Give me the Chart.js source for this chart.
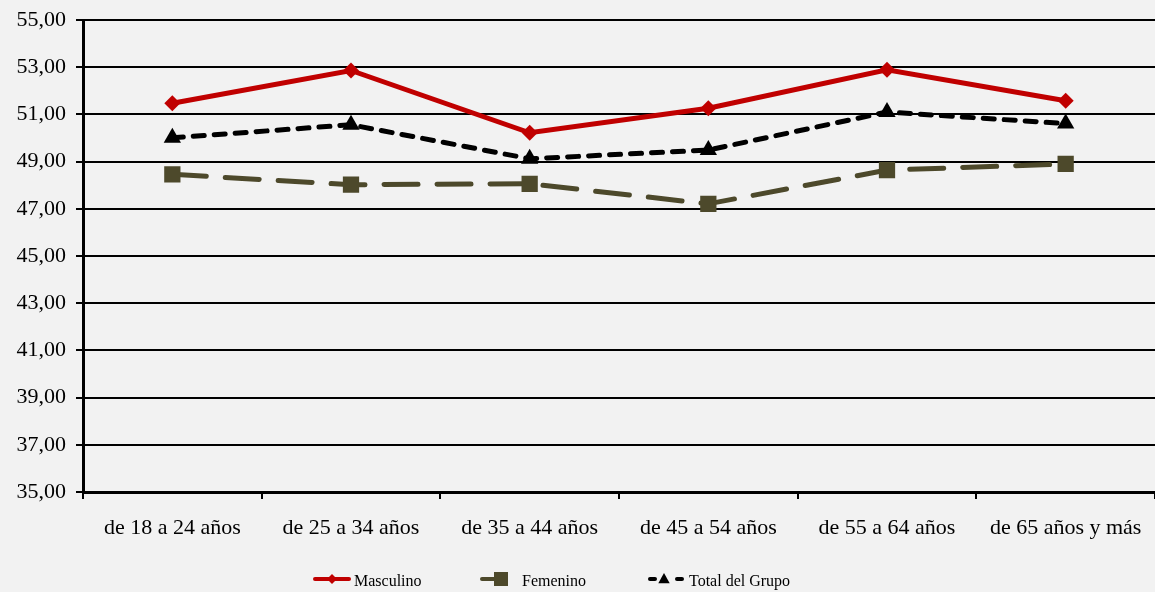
<!DOCTYPE html>
<html>
<head>
<meta charset="utf-8">
<script src="https://cdn.jsdelivr.net/npm/chart.js@4.4.1/dist/chart.umd.min.js"></script>
<style>
  html, body { margin: 0; padding: 0; background: #f2f2f2; }
  #wrap { width: 1155px; height: 592px; position: relative; }
</style>
</head>
<body>
<div id="wrap"><canvas id="c" width="1155" height="592"></canvas></div>
<script>
// Age groups on the x axis
const categories = ['de 18 a 24 años', 'de 25 a 34 años', 'de 35 a 44 años', 'de 45 a 54 años', 'de 55 a 64 años', 'de 65 años y más'];

// Series values
const masculino = [51.47, 52.86, 50.22, 51.26, 52.89, 51.58];
const femenino  = [48.46, 48.02, 48.06, 47.21, 48.64, 48.90];
const totalGrupo = [50.01, 50.56, 49.12, 49.49, 51.10, 50.61];

const seriesNames = ['Masculino', 'Femenino', 'Total del Grupo'];

// Y axis range
const yMin = 35, yMax = 55, yStep = 2;

const FONT = '"Liberation Serif", "Times New Roman", serif';

function fmt(v) { return v.toFixed(2).replace('.', ','); }

// Legend drawn under the plot: a short line sample with the marker, then the name
const legendItems = [
  { lineFrom: 313, lineTo: 351, marker: 332, textX: 354 },
  { lineFrom: 480, lineTo: 508, marker: 501, textX: 522 },
  { lineFrom: 648, lineTo: 684, marker: 664, textX: 689 }
];

function drawMarker(ctx, style, x, y, r, color) {
  ctx.save();
  ctx.fillStyle = color;
  ctx.beginPath();
  if (style === 'rectRot') {
    ctx.moveTo(x, y - r); ctx.lineTo(x + r, y); ctx.lineTo(x, y + r); ctx.lineTo(x - r, y);
  } else if (style === 'rect') {
    ctx.rect(x - r, y - r, 2 * r, 2 * r);
  } else {
    ctx.moveTo(x, y - r); ctx.lineTo(x + r * 0.95, y + r * 0.7); ctx.lineTo(x - r * 0.95, y + r * 0.7);
  }
  ctx.closePath();
  ctx.fill();
  ctx.restore();
}

const legendPlugin = {
  id: 'bottomLegend',
  afterDraw(chart) {
    const ctx = chart.ctx;
    const y = 579;
    chart.data.datasets.forEach((ds, i) => {
      const it = legendItems[i];
      ctx.save();
      ctx.strokeStyle = ds.borderColor;
      ctx.lineWidth = 4;
      ctx.lineCap = 'round';
      if (i === 1) {
        ctx.beginPath(); ctx.moveTo(it.lineFrom + 2, y); ctx.lineTo(it.marker, y); ctx.stroke();
      } else if (i === 2) {
        ctx.beginPath(); ctx.moveTo(it.lineFrom + 2, y); ctx.lineTo(it.lineFrom + 7, y); ctx.stroke();
        ctx.beginPath(); ctx.moveTo(it.lineTo - 7, y); ctx.lineTo(it.lineTo - 2, y); ctx.stroke();
      } else {
        ctx.beginPath(); ctx.moveTo(it.lineFrom + 2, y); ctx.lineTo(it.lineTo - 2, y); ctx.stroke();
      }
      ctx.restore();
      const r = i === 0 ? 5 : (i === 1 ? 7 : 6);
      drawMarker(ctx, ds.pointStyle, it.marker, y, r, ds.borderColor);
      ctx.save();
      ctx.fillStyle = '#000';
      ctx.font = '16px ' + FONT;
      ctx.textBaseline = 'alphabetic';
      ctx.textAlign = 'left';
      ctx.fillText(seriesNames[i], it.textX, y + 7);
      ctx.restore();
    });
  }
};

const bgPlugin = {
  id: 'bg',
  beforeDraw(chart) {
    const ctx = chart.ctx;
    ctx.save();
    ctx.fillStyle = '#f2f2f2';
    ctx.fillRect(0, 0, chart.width, chart.height);
    ctx.restore();
  }
};

new Chart(document.getElementById('c'), {
  type: 'line',
  data: {
    labels: categories,
    datasets: [
      {
        label: seriesNames[0], data: masculino,
        borderColor: '#c00000', backgroundColor: '#c00000',
        borderWidth: 5, pointStyle: 'rectRot', pointRadius: 8, pointHoverRadius: 8,
        pointBorderWidth: 0, tension: 0
      },
      {
        label: seriesNames[1], data: femenino,
        borderColor: '#4d492b', backgroundColor: '#4d492b',
        borderWidth: 5, borderDash: [34, 19], borderCapStyle: 'round',
        pointStyle: 'rect', pointRadius: 11.5, pointHoverRadius: 11.5,
        pointBorderWidth: 0, tension: 0
      },
      {
        label: seriesNames[2], data: totalGrupo,
        borderColor: '#000000', backgroundColor: '#000000',
        borderWidth: 5, borderDash: [11, 10], borderCapStyle: 'round',
        pointStyle: 'triangle', pointRadius: 10, pointHoverRadius: 10,
        pointBorderWidth: 0, tension: 0
      }
    ]
  },
  options: {
    responsive: false,
    animation: false,
    devicePixelRatio: 1,
    layout: { autoPadding: false, padding: { top: 20, right: 0, bottom: 0, left: 0 } },
    plugins: { legend: { display: false }, tooltip: { enabled: false } },
    scales: {
      x: {
        offset: true,
        afterFit(scale) { scale.height = 100; scale.paddingLeft = 0; scale.paddingRight = 0; },
        grid: { drawOnChartArea: false, drawTicks: true, tickLength: 7, offset: true, color: '#000', lineWidth: 2 },
        border: { color: '#000', width: 3 },
        ticks: { color: '#000', font: { family: FONT, size: 22 }, padding: 16, maxRotation: 0, autoSkip: false }
      },
      y: {
        min: yMin, max: yMax,
        afterFit(scale) { scale.width = 83; scale.paddingTop = 0; scale.paddingBottom = 0; },
        grid: { color: '#000', lineWidth: 2, drawTicks: true, tickLength: 7 },
        border: { color: '#000', width: 3 },
        ticks: { stepSize: yStep, color: '#000', font: { family: FONT, size: 22 }, padding: 10, callback: v => fmt(v) }
      }
    }
  },
  plugins: [bgPlugin, legendPlugin]
});
</script>
</body>
</html>
